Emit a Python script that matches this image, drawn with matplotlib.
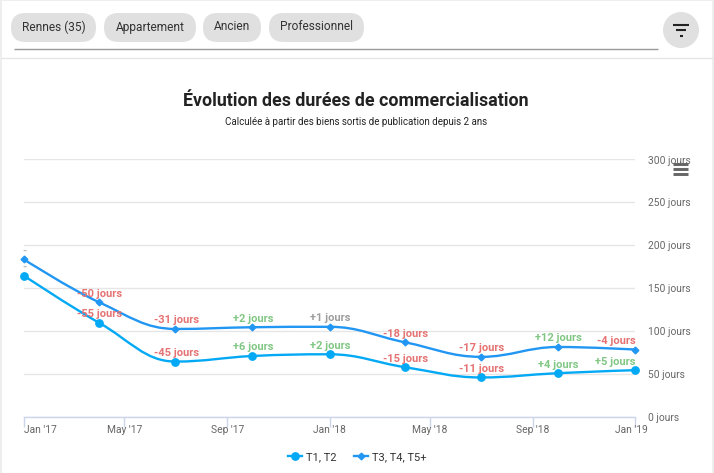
import matplotlib
matplotlib.use("Agg")
import matplotlib.pyplot as plt
import matplotlib.dates as mdates
from matplotlib.lines import Line2D
from matplotlib.patches import Circle, FancyBboxPatch, PathPatch, Rectangle
from matplotlib.path import Path
from matplotlib.transforms import ScaledTranslation
from datetime import date

plt.rcParams['font.family'] = ['Roboto', 'DejaVu Sans']

W, H = 714, 473

# donnees
dates = [date(2017, 1, 1), date(2017, 4, 1), date(2017, 7, 1), date(2017, 10, 1), date(2018, 1, 1),
         date(2018, 4, 1), date(2018, 7, 1), date(2018, 10, 1), date(2019, 1, 1)]
t1_t2 = [164, 109, 64, 70.5, 72.5, 57.5, 45.5, 50.5, 54]
t3_plus = [183, 133, 102, 104, 104.5, 86.5, 69.5, 81, 78]
labels_t1_t2 = ["-", "-55 jours", "-45 jours", "+6 jours", "+2 jours", "-15 jours", "-11 jours", "+4 jours", "+5 jours"]
labels_t3_plus = ["-", "-50 jours", "-31 jours", "+2 jours", "+1 jours", "-18 jours", "-17 jours", "+12 jours", "-4 jours"]
tick_dates = [date(2017, 1, 1), date(2017, 5, 1), date(2017, 9, 1), date(2018, 1, 1),
              date(2018, 5, 1), date(2018, 9, 1), date(2019, 1, 1)]
tick_labels = ["Jan '17", "May '17", "Sep '17", "Jan '18", "May '18", "Sep '18", "Jan '19"]
y_ticks = [0, 50, 100, 150, 200, 250, 300]
filtres = ["Rennes (35)", "Appartement", "Ancien", "Professionnel"]

COL_T1 = "#03a9f4"
COL_T3 = "#2196f3"
TXT = "#666666"


def couleur_label(txt):
    if txt.startswith("+") and not txt.startswith("+1 "):
        return "#81c784"
    if txt.startswith("+1 "):
        return "#9e9e9e"
    return "#e57373"


def courbe(xs, ys):
    # lissage facon spline highcharts
    sm, den = 1.5, 2.5
    verts = [(xs[0], ys[0])]
    codes = [Path.MOVETO]
    ctrl = []
    for i in range(1, len(xs) - 1):
        x, y = xs[i], ys[i]
        lx = (sm * x + xs[i - 1]) / den
        ly = (sm * y + ys[i - 1]) / den
        rx = (sm * x + xs[i + 1]) / den
        ry = (sm * y + ys[i + 1]) / den
        corr = (ry - ly) * (rx - x) / (rx - lx) + y - ry
        ly += corr
        ry += corr
        if ly > ys[i - 1] and ly > y:
            ly = max(ys[i - 1], y)
            ry = 2 * y - ly
        elif ly < ys[i - 1] and ly < y:
            ly = min(ys[i - 1], y)
            ry = 2 * y - ly
        if ry > ys[i + 1] and ry > y:
            ry = max(ys[i + 1], y)
            ly = 2 * y - ry
        elif ry < ys[i + 1] and ry < y:
            ry = min(ys[i + 1], y)
            ly = 2 * y - ry
        ctrl.append(((lx, ly), (rx, ry)))
    prev = (xs[0], ys[0])
    for i in range(1, len(xs)):
        c2 = ctrl[i - 1][0] if i - 1 < len(ctrl) else (xs[i], ys[i])
        verts += [prev, c2, (xs[i], ys[i])]
        codes += [Path.CURVE4] * 3
        if i - 1 < len(ctrl):
            prev = ctrl[i - 1][1]
    return Path(verts, codes)


def px_rect(x0, y0, x1, y1):
    return [x0 / W, 1 - y1 / H, (x1 - x0) / W, (y1 - y0) / H]


fig = plt.figure(figsize=(W / 100, H / 100), dpi=100, facecolor="white")

# fond : carte + bandeau de filtres, en coordonnees pixels
bg = fig.add_axes([0, 0, 1, 1])
bg.set_xlim(0, W)
bg.set_ylim(H, 0)
bg.axis("off")
bg.add_patch(Rectangle((0, 0), W, H, fc="#eeeeee", ec="none"))
bg.add_patch(Rectangle((1.5, 1.5), 710, H, fc="white", ec="none"))
bg.plot([1.5, 711.5], [58.5, 58.5], color="#e6e6e6", lw=1)
bg.plot([14, 657.5], [49.5, 49.5], color="#999999", lw=1, solid_capstyle="butt")

chips = [(11, 96), (104, 196), (203, 261), (269, 364)]
for (x0, x1), nom in zip(chips, filtres):
    bg.add_patch(FancyBboxPatch((x0 + 14.5, 13 + 14.5), x1 - x0 - 29, 0, boxstyle="round,pad=14.5",
                                fc="#e0e0e0", ec="none"))
    bg.text((x0 + x1) / 2, 27, nom, ha="center", va="center", fontsize=8.55, color="#333333")

bg.add_patch(Circle((681, 30), 18, fc="#e0e0e0", ec="none"))
for y, x0, x1 in [(25, 673, 689), (30.5, 676, 686), (36, 679.5, 682.5)]:
    bg.plot([x0, x1], [y, y], color="#222222", lw=1.5, solid_capstyle="butt")

bg.text(356, 101, "Évolution des durées de commercialisation", ha="center", va="center",
        fontsize=12.8, fontweight=600, color="#222222")
bg.text(356, 122, "Calculée à partir des biens sortis de publication depuis 2 ans", ha="center", va="center",
        fontsize=7.0, color="#222222")

# graphique
ax = fig.add_axes(px_rect(24, 159, 635, 416.5), facecolor="none")
x_num = mdates.date2num(dates)
ax.set_xlim(x_num[0], x_num[-1])
ax.set_ylim(0, 300)

for s in ["top", "left", "right"]:
    ax.spines[s].set_visible(False)
ax.spines["bottom"].set_color("#ccd6eb")
ax.spines["bottom"].set_linewidth(1)
ax.grid(axis="y", color="#e6e6e6", lw=1)
ax.set_axisbelow(True)

ax.set_xticks(mdates.date2num(tick_dates))
ax.set_xticklabels(tick_labels)
ax.tick_params(axis="x", length=7, width=1, color="#ccd6eb", direction="out", pad=-0.8, labelsize=7.4, labelcolor=TXT)
ax.yaxis.tick_right()
ax.set_yticks(y_ticks)
ax.set_yticklabels([f"{v} jours" for v in y_ticks])
ax.tick_params(axis="y", length=0, pad=9.4, labelsize=7.4, labelcolor=TXT)
for lab in ax.get_yticklabels():
    lab.set_va("center")
    lab.set_transform(lab.get_transform() + ScaledTranslation(0, -1.5 / 100, fig.dpi_scale_trans))

# le premier et le dernier label sont decales
xlabs = ax.get_xticklabels()
xlabs[0].set_ha("left")
xlabs[-1].set_transform(xlabs[-1].get_transform() + ScaledTranslation(-4 / 100, 0, fig.dpi_scale_trans))

for valeurs, col, marker, ms in [(t1_t2, COL_T1, "o", 5.3), (t3_plus, COL_T3, "D", 3.4)]:
    ax.add_patch(PathPatch(courbe(list(x_num), valeurs), fc="none", ec=col, lw=1.7, clip_on=False, zorder=3))
    ax.plot(x_num, valeurs, ls="none", marker=marker, ms=ms, color=col, mec=col, clip_on=False, zorder=4)

for valeurs, textes in [(t1_t2, labels_t1_t2), (t3_plus, labels_t3_plus)]:
    for i, (xv, yv, txt) in enumerate(zip(x_num, valeurs, textes)):
        ha = "right" if i == len(valeurs) - 1 else "center"
        col = "#bdbdbd" if txt == "-" else couleur_label(txt)
        ax.annotate(txt, (xv, yv), xytext=(0.5, 6.2), textcoords="offset points", ha=ha, va="center",
                    fontsize=8, fontweight="bold", color=col, annotation_clip=False, zorder=5)

# icone menu
for y in [164.5, 169.5, 174.5]:
    bg.plot([673, 688], [y, y], color="#666666", lw=2.1, solid_capstyle="butt", zorder=6)

handles = [Line2D([], [], color=COL_T1, marker="o", ms=5.3, lw=1.7),
           Line2D([], [], color=COL_T3, marker="D", ms=3.4, lw=1.7)]
fig.legend(handles, ["T1, T2", "T3, T4, T5+"], loc="center", bbox_to_anchor=(357.5 / W, 1 - 457 / H), ncol=2,
           frameon=False, fontsize=8, labelcolor="#333333", handlelength=1.26, handletextpad=0.36,
           columnspacing=1.6)

fig.savefig("out.png", dpi=100)
